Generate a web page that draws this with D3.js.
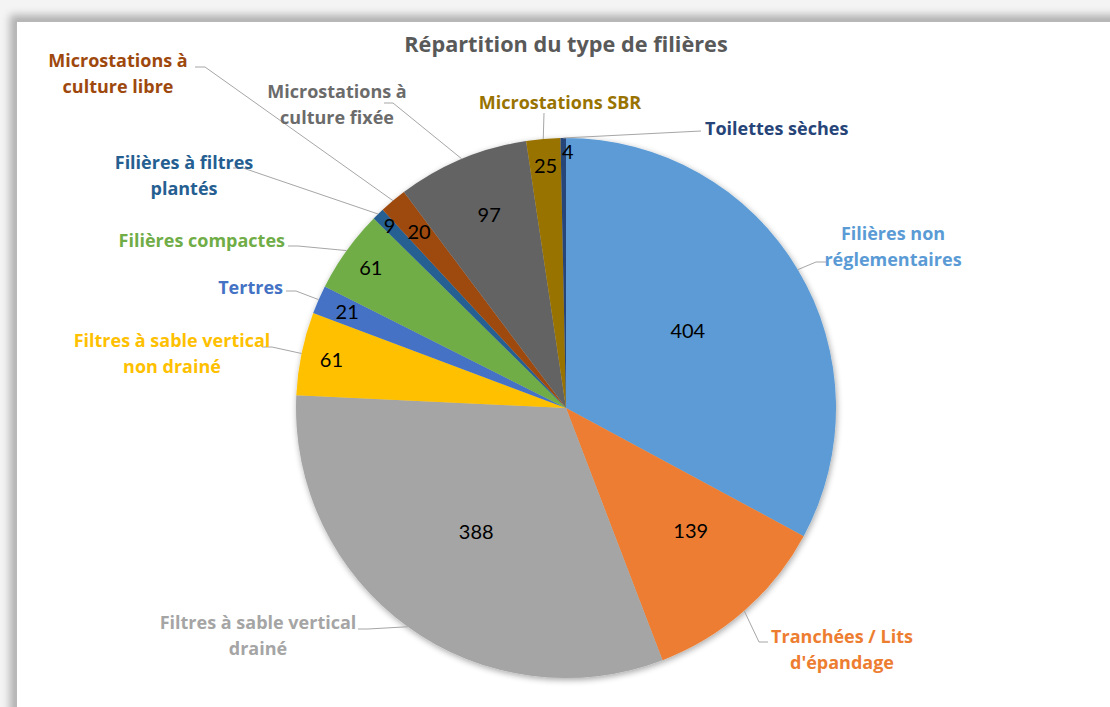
<!DOCTYPE html>
<html><head><meta charset="utf-8">
<script src="https://cdn.jsdelivr.net/npm/d3@7"></script>
<style>
html,body{margin:0;padding:0;}
body{width:1110px;height:707px;background:#f4f4f4;overflow:hidden;position:relative;font-family:Lato,"Open Sans",sans-serif;}
#frame{position:absolute;left:16px;top:21px;width:1120px;height:720px;background:#fff;border:1px solid #b8b8b8;box-shadow:-3px -3px 8px 3px rgba(0,0,0,0.28);}
svg{position:absolute;left:0;top:0;}
</style></head>
<body><div id="frame"></div>
<svg id="chart" width="1110" height="707"></svg>
<script>
const categories = ["Filières non réglementaires","Tranchées / Lits d'épandage","Filtres à sable vertical drainé","Filtres à sable vertical non drainé","Tertres","Filières compactes","Filières à filtres plantés","Microstations à culture libre","Microstations à culture fixée","Microstations SBR","Toilettes sèches"];
const values = [404,139,388,61,21,61,9,20,97,25,4];
const colors = ["#5B9BD5","#ED7D31","#A5A5A5","#FFC000","#4472C4","#70AD47","#255E91","#9E480E","#636363","#997300","#264478"];
const labelLines = [["Filières non","réglementaires"],["Tranchées / Lits","d'épandage"],["Filtres à sable vertical","drainé"],["Filtres à sable vertical","non drainé"],["Tertres"],["Filières compactes"],["Filières à filtres","plantés"],["Microstations à","culture libre"],["Microstations à","culture fixée"],["Microstations SBR"],["Toilettes sèches"]];
const labelColors = ["#5B9BD5","#ED7D31","#A5A5A5","#FFC000","#4472C4","#70AD47","#255E91","#9E480E","#6b6b6b","#997300","#264478"];
const title = "Répartition du type de filières";

// layout (positions of text labels and leader elbows)
const labelLayout = [
  {x:893,y:234,anchor:"middle",leader:[[826,262],[816,262]]},
  {x:842,y:637,anchor:"middle",leader:[[768,642],[759,642]]},
  {x:258,y:623,anchor:"middle",leader:[[358,629],[368,629]]},
  {x:172,y:341,anchor:"middle",leader:[[262,347],[272,347]]},
  {x:283,y:288,anchor:"end",leader:[[286,291],[296,291]]},
  {x:285,y:241,anchor:"end",leader:[[288,246],[298,246]]},
  {x:184,y:163,anchor:"middle",leader:[[233,168],[243,168]]},
  {x:118,y:61,anchor:"middle",leader:[[195,67],[205,67]]},
  {x:337,y:92,anchor:"middle",leader:[[384,103],[393,103]]},
  {x:560,y:103,anchor:"middle",leader:[[544,113],[544,113]]},
  {x:705,y:129,anchor:"start",leader:[[701,131],[701,131]]}
];
// value label placement: fraction of radius, angle shift (deg)
const valueRadius = [0.534,0.65,0.567,0.887,0.885,0.89,0.94,0.85,0.77,0.90,0.95];
const valueShift = [-1.5,-4,0,0,0,0,0,0,1,0,1];

const cx = 566, cy = 408, R = 270;
const svg = d3.select("#chart");
const defs = svg.append("defs");
const f = defs.append("filter").attr("id","sh").attr("x","-20%").attr("y","-20%").attr("width","140%").attr("height","140%");
f.append("feGaussianBlur").attr("in","SourceAlpha").attr("stdDeviation",3).attr("result","b");
f.append("feOffset").attr("in","b").attr("dx",1).attr("dy",2).attr("result","o");
f.append("feComponentTransfer").attr("in","o").attr("result","o2").append("feFuncA").attr("type","linear").attr("slope",0.35);
const m = f.append("feMerge"); m.append("feMergeNode").attr("in","o2"); m.append("feMergeNode").attr("in","SourceGraphic");

svg.append("text").attr("x",566).attr("y",44).attr("dy","0.35em").attr("text-anchor","middle")
  .attr("font-family","'Open Sans'").attr("font-size",21.7).attr("font-weight","bold").attr("fill","#595959").text(title);

const data = categories.map((c,i)=>({c, v:values[i], i}));
const pie = d3.pie().value(d=>d.v).sort(null).startAngle(0).endAngle(2*Math.PI);
const arcs = pie(data);
const arc = d3.arc().innerRadius(0).outerRadius(R);
const g = svg.append("g").attr("transform",`translate(${cx},${cy})`);
g.append("g").attr("filter","url(#sh)").selectAll("path").data(arcs).join("path")
  .attr("d",arc).attr("fill",d=>colors[d.data.i]);

// value labels
g.selectAll("text.v").data(arcs).join("text").attr("class","v")
  .attr("transform",d=>{
    const i=d.data.i;
    const a=(d.startAngle+d.endAngle)/2 + valueShift[i]*Math.PI/180;
    const r=R*valueRadius[i];
    return `translate(${r*Math.sin(a)},${-r*Math.cos(a)})`;})
  .attr("text-anchor","middle").attr("dy","0.35em")
  .attr("font-size",20).attr("fill","#000").text(d=>d.data.v);

// leader lines and category labels
arcs.forEach(d=>{
  const L = labelLayout[d.data.i];
  const ang = (d.startAngle+d.endAngle)/2;
  const px = cx + R*Math.sin(ang), py = cy - R*Math.cos(ang);
  if (L.leader){
    const pts = [L.leader[0], L.leader[1], [px,py]];
    svg.append("path").attr("d",d3.line()(pts)).attr("fill","none").attr("stroke","#a6a6a6").attr("stroke-width",1);
  }
  const t = svg.append("text").attr("x",L.x).attr("y",L.y).attr("text-anchor",L.anchor)
    .attr("font-family","'Open Sans'").attr("font-size",18).attr("font-weight","bold").attr("fill",labelColors[d.data.i]);
  labelLines[d.data.i].forEach((s,k)=>{
    t.append("tspan").attr("x",L.x).attr("dy",k===0?"0.35em":"25.5").text(s);
  });
});
</script></body></html>
